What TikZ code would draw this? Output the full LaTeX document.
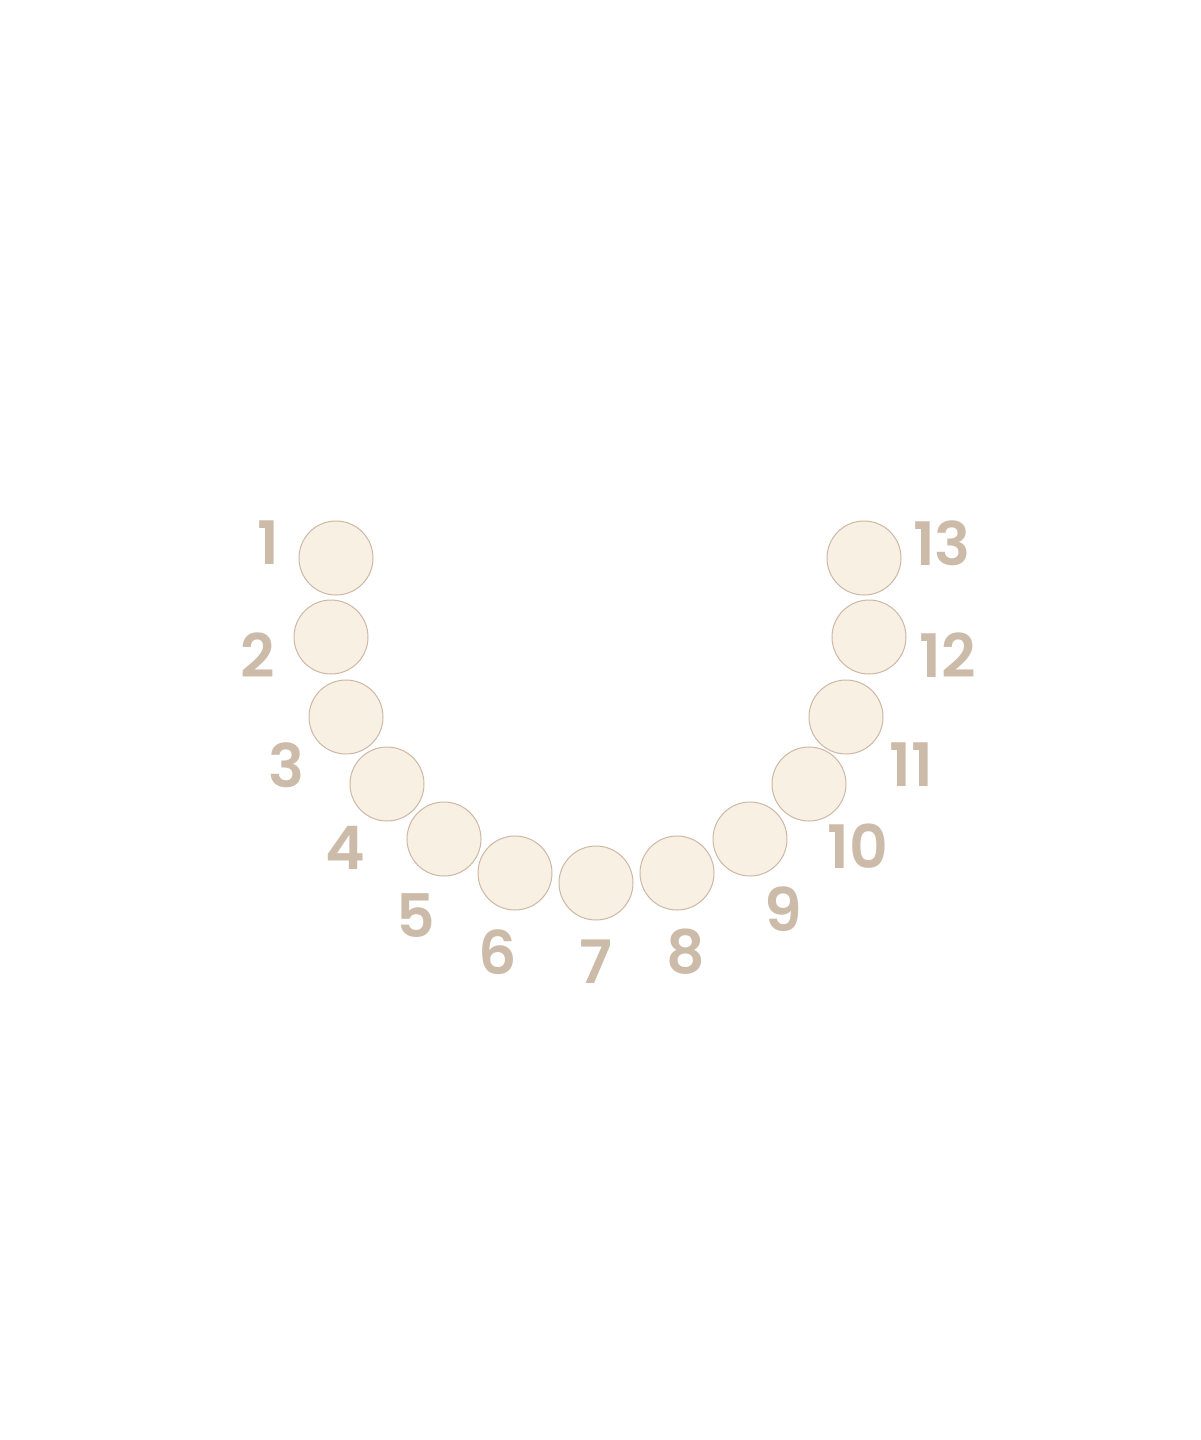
\documentclass[tikz,border=0pt]{standalone}
\usepackage{fontspec}
\setmainfont{Poppins}[BoldFont = {Poppins SemiBold}]
\definecolor{toothfill}{HTML}{F8F0E2}
\definecolor{toothline}{HTML}{CDB8A5}
\definecolor{numcol}{HTML}{CDBBA9}
\tikzset{
  tooth/.style = {circle, draw = toothline, fill = toothfill, line width = 1pt, minimum size = 74pt, inner sep = 0pt},
  toothnum/.style = {text = numcol, font = \fontsize{60}{60}\selectfont\bfseries, inner sep = 0pt}
}
\begin{document}
\begin{tikzpicture}[x = 1pt, y = -1pt]
\useasboundingbox[fill = white] (0, 0) rectangle (1200, 1440);
% teeth, left to right round the arch
\foreach \n/\x/\y in {1/336/558, 2/331/637, 3/346/717, 4/387/784, 5/444/839, 6/515/873, 7/596/883,
                      8/677/873, 9/750/839, 10/809/784, 11/846/717, 12/869/637, 13/864/558}
  \node[tooth] (tooth\n) at (\x, \y) {};
% numbers
\foreach \n/\x/\y in {1/268/543, 2/258/655, 3/286/765, 4/345/848, 5/416/916, 6/498/952, 7/596/962,
                      8/686/952, 9/783/909, 10/858/846, 11/911/765, 12/948/655, 13/942/543}
  \node[toothnum] (num\n) at (\x, \y) {\n};
\end{tikzpicture}
\end{document}
